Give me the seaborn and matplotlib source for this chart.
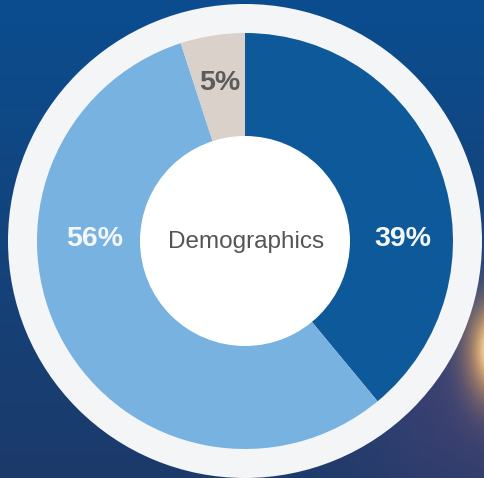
import numpy as np
import matplotlib
matplotlib.use("Agg")
import matplotlib.pyplot as plt
import seaborn as sns
from matplotlib.patches import Circle

categories = ["Group A", "Group B", "Group C"]
values = [39, 56, 5]
labels = ["39%", "56%", "5%"]
colors = ["#0d5999", "#78b2e0", "#dad2ca"]
label_colors = ["#f4f7fa", "#f4f7fa", "#5c5c5c"]
center_text = "Demographics"

sns.set_theme(style="white")
plt.rcParams['font.family'] = ['Liberation Sans', 'DejaVu Sans']

W, H = 485, 478
fig = plt.figure(figsize=(W / 100, H / 100), dpi=100)
ax = fig.add_axes([0, 0, 1, 1])
ax.set_xlim(0, W)
ax.set_ylim(0, H)
ax.set_aspect('equal')
ax.axis('off')

# background gradient with glow
yy, xx = np.mgrid[0:H, 0:W]
t = yy / H  # 0 top -> 1 bottom
top = np.array([0x0a, 0x4d, 0x8f]) / 255
bot = np.array([0x1c, 0x3a, 0x6a]) / 255
img = top[None, None, :] * (1 - t[..., None]) + bot[None, None, :] * t[..., None]
d = np.sqrt((xx - 485) ** 2 + (yy - 390) ** 2)
purple = np.array([0.36, 0.27, 0.45])
w = np.exp(-(d / 130) ** 2)[..., None] * 0.55
img = img * (1 - w) + purple * w
dg = np.sqrt(((xx - 495) / 1.0) ** 2 + ((yy - 350) / 1.8) ** 2)
orange = np.array([1.0, 0.70, 0.35])
wg = np.exp(-(dg / 28) ** 2)[..., None]
img = img * (1 - wg) + orange * wg
core = np.exp(-(dg / 13) ** 2)[..., None]
img = img * (1 - core) + np.array([1.0, 0.98, 0.9]) * core
img = np.clip(img, 0, 1)
ax.imshow(img, extent=(0, W, 0, H), origin='upper', zorder=0, interpolation='bilinear')

cx, cy = 245, H - 241
ax.add_patch(Circle((cx, cy), 237, facecolor="#f4f5f6", edgecolor="none", zorder=1))

ax.pie(values, colors=colors, startangle=90, counterclock=False,
       radius=208, center=(cx, cy),
       wedgeprops=dict(width=104, edgecolor="none", linewidth=0),
       frame=True)
for p in ax.patches[1:]:
    p.set_zorder(2)
ax.set_xlim(0, W)
ax.set_ylim(0, H)
ax.axis('off')

ax.add_patch(Circle((cx, cy), 105, facecolor="white", edgecolor="none", zorder=3))

r_lab = 160
angles = []
start = 90.0
for v in values:
    sweep = v / sum(values) * 360
    angles.append(start - sweep / 2)
    start -= sweep
pos = []
for i, a in enumerate(angles):
    if values[i] >= 20:
        side = 1 if np.cos(np.radians(a)) > 0 else -1
        pos.append((cx + side * (158 if side > 0 else 150), cy + 2))
    else:
        pos.append((cx + r_lab * np.cos(np.radians(a)), cy + r_lab * np.sin(np.radians(a))))
for (x, y), lab, c in zip(pos, labels, label_colors):
    ax.text(x, y, lab, ha='center', va='center', fontsize=20.5,
            fontweight='bold', color=c, zorder=4)

ax.text(cx + 1, cy - 1, center_text, ha='center', va='center', fontsize=17.5,
        color="#555555", zorder=4)

fig.savefig("out.png", dpi=100)
